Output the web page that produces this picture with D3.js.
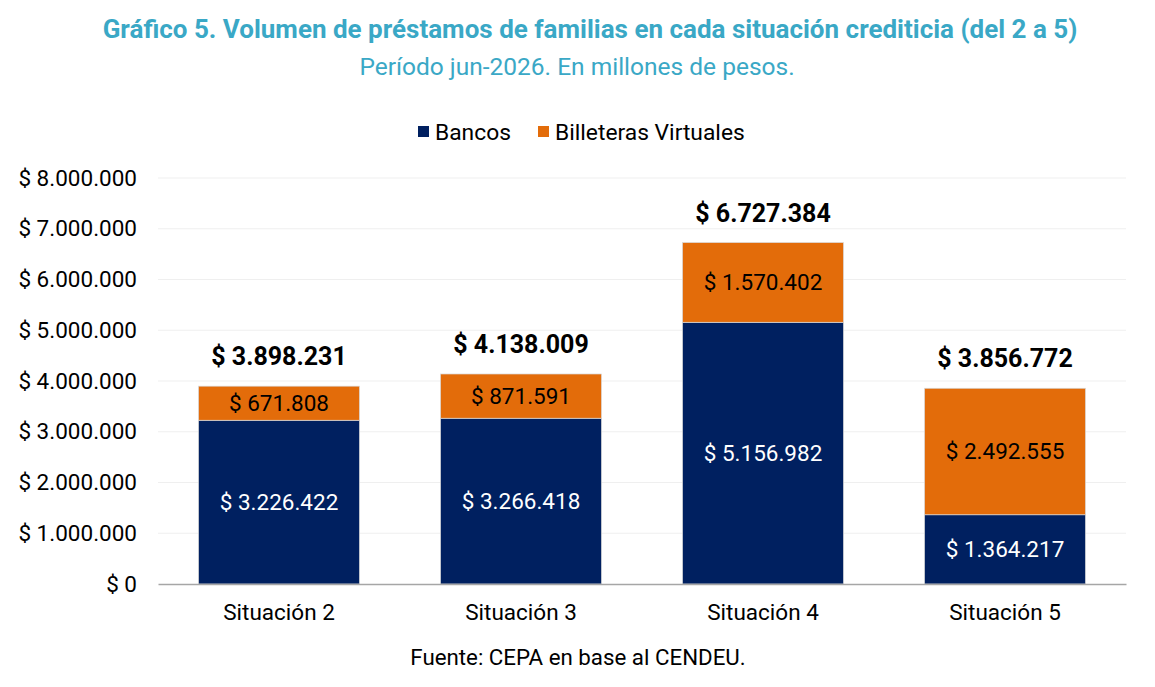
<!DOCTYPE html>
<html>
<head>
<meta charset="utf-8">
<script src="https://cdn.jsdelivr.net/npm/d3@7"></script>
<style>
  body { margin: 0; background: #fff; font-family: Roboto, "Noto Sans", sans-serif; }
</style>
</head>
<body>
<div id="chart"></div>
<script>
const categories = ["Situación 2", "Situación 3", "Situación 4", "Situación 5"];
const bancos = [3226422, 3266418, 5156982, 1364217];
const billeteras = [671808, 871591, 1570402, 2492555];
const totals = [3898231, 4138009, 6727384, 3856772];
const seriesNames = ["Bancos", "Billeteras Virtuales"];
const yTicks = [0, 1000000, 2000000, 3000000, 4000000, 5000000, 6000000, 7000000, 8000000];

const W = 1155, H = 687;
const margin = {top: 178, right: 29, bottom: 103, left: 158};
const width = W - margin.left - margin.right,
    height = H - margin.top - margin.bottom;

const colors = {"Bancos": "#002060", "Billeteras Virtuales": "#E36C0A"};
const titleColor = "#3AA8C6";

// pesos con punto de miles
const fmt = v => "$ " + d3.format(",")(v).replace(/,/g, ".");

const svg = d3.select("#chart")
    .append("svg")
    .attr("width", W)
    .attr("height", H);

svg.append("text")
    .attr("x", 590)
    .attr("y", 38)
    .attr("text-anchor", "middle")
    .style("font-size", "26px")
    .style("font-weight", "bold")
    .style("fill", titleColor)
    .text("Gráfico 5. Volumen de préstamos de familias en cada situación crediticia (del 2 a 5)");

svg.append("text")
    .attr("x", 577)
    .attr("y", 75)
    .attr("text-anchor", "middle")
    .style("font-size", "24.5px")
    .style("fill", titleColor)
    .text("Período jun-2026. En millones de pesos.");

// leyenda
const legend = svg.append("g").attr("transform", "translate(418,132)");
const legendX = [0, 120];
seriesNames.forEach((name, i) => {
    const g = legend.append("g").attr("transform", `translate(${legendX[i]},0)`);
    g.append("rect")
        .attr("x", 0).attr("y", -6)
        .attr("width", 11).attr("height", 11)
        .attr("fill", colors[name]);
    g.append("text")
        .attr("x", 17).attr("y", 0)
        .attr("dy", "0.35em")
        .style("font-size", "22.8px")
        .style("fill", "#000")
        .text(name);
});

const plot = svg.append("g")
    .attr("transform", `translate(${margin.left},${margin.top})`);

const x = d3.scaleBand()
    .domain(categories)
    .range([0, width])
    .paddingInner(0.335)
    .paddingOuter(0.1675);

const y = d3.scaleLinear()
    .domain([0, 8000000])
    .range([height, 0]);

// grilla
plot.append("g")
    .selectAll("line")
    .data(yTicks.slice(1))
    .join("line")
    .attr("x1", 0).attr("x2", width)
    .attr("y1", d => y(d)).attr("y2", d => y(d))
    .attr("stroke", "#efefef")
    .attr("stroke-width", 1);

const yAxis = plot.append("g")
    .call(d3.axisLeft(y).tickValues(yTicks).tickFormat(fmt).tickSize(0).tickPadding(21));
yAxis.select(".domain").remove();
yAxis.selectAll("text")
    .style("font-size", "22.5px")
    .style("font-family", "Roboto, sans-serif")
    .style("fill", "#000");

const data = categories.map((c, i) => ({cat: c, Bancos: bancos[i], "Billeteras Virtuales": billeteras[i], total: totals[i]}));
const stacked = d3.stack().keys(seriesNames)(data);

stacked.forEach(layer => {
    const g = plot.append("g");
    g.selectAll("rect")
        .data(layer)
        .join("rect")
        .attr("x", d => x(d.data.cat))
        .attr("width", x.bandwidth())
        .attr("y", d => y(d[1]))
        .attr("height", d => y(d[0]) - y(d[1]))
        .attr("fill", colors[layer.key])
        .attr("stroke", "#d9d9d9")
        .attr("stroke-width", 0.7);

    g.selectAll("text")
        .data(layer)
        .join("text")
        .attr("x", d => x(d.data.cat) + x.bandwidth() / 2)
        .attr("y", d => (y(d[0]) + y(d[1])) / 2)
        .attr("dy", "0.35em")
        .attr("text-anchor", "middle")
        .style("font-size", "22.5px")
        .style("fill", layer.key === "Bancos" ? "#fff" : "#000")
        .text(d => fmt(d[1] - d[0]));
});

// totales
plot.append("g")
    .selectAll("text")
    .data(data)
    .join("text")
    .attr("x", d => x(d.cat) + x.bandwidth() / 2)
    .attr("y", d => y(d.total) - 21)
    .attr("text-anchor", "middle")
    .style("font-size", "25px")
    .style("font-weight", "bold")
    .style("fill", "#000")
    .text(d => fmt(d.total));

// eje x
const xAxis = plot.append("g")
    .attr("transform", `translate(0,${height})`)
    .call(d3.axisBottom(x).tickSize(0).tickPadding(20));
xAxis.select(".domain")
    .attr("stroke", "#a6a6a6")
    .attr("stroke-width", 1.5);
xAxis.selectAll("text")
    .style("font-size", "22.5px")
    .style("font-family", "Roboto, sans-serif")
    .style("fill", "#000");

svg.append("text")
    .attr("x", 578)
    .attr("y", 665)
    .attr("text-anchor", "middle")
    .style("font-size", "22.3px")
    .style("fill", "#000")
    .text("Fuente: CEPA en base al CENDEU.");
</script>
</body>
</html>
